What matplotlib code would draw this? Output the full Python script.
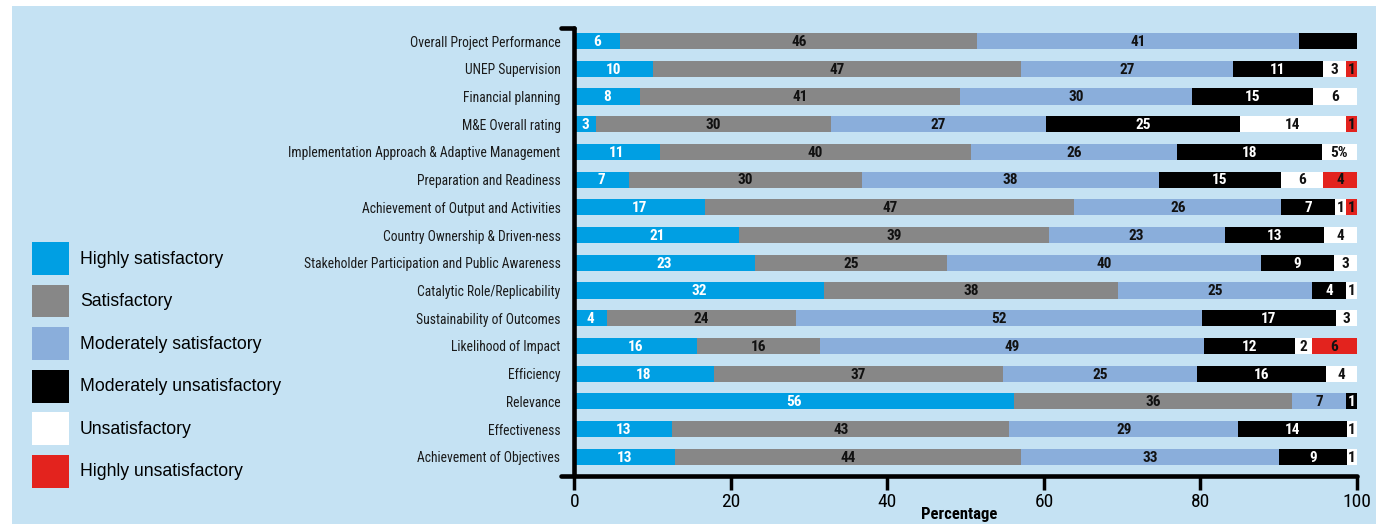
import numpy as np
import matplotlib
matplotlib.use('Agg')
import matplotlib.pyplot as plt
from matplotlib.patches import Rectangle, Patch

narrow = ['Roboto Condensed', 'PT Sans Narrow', 'DejaVu Sans']
plain = ['Liberation Sans', 'DejaVu Sans']
plt.rcParams['font.family'] = narrow

categories = ['Overall Project Performance', 'UNEP Supervision', 'Financial planning',
              'M&E Overall rating', 'Implementation Approach & Adaptive Management',
              'Preparation and Readiness', 'Achievement of Output and Activities',
              'Country Ownership & Driven-ness', 'Stakeholder Participation and Public Awareness',
              'Catalytic Role/Replicability', 'Sustainability of Outcomes', 'Likelihood of Impact',
              'Efficiency', 'Relevance', 'Effectiveness', 'Achievement of Objectives']

series = ['Highly satisfactory', 'Satisfactory', 'Moderately satisfactory',
          'Moderately unsatisfactory', 'Unsatisfactory', 'Highly unsatisfactory']

# segment widths (%) as drawn
highly_sat = [5.9, 10.1, 8.4, 2.8, 10.9, 7.0, 16.7, 21.1, 23.1, 31.9, 4.2, 15.7, 17.8, 56.2, 12.5, 12.9]
sat = [45.6, 47.0, 40.9, 30.0, 39.8, 29.7, 47.2, 39.5, 24.5, 37.6, 24.1, 15.7, 37.0, 35.5, 43.1, 44.2]
mod_sat = [41.1, 27.1, 29.6, 27.5, 26.3, 38.0, 26.4, 22.5, 40.1, 24.7, 51.9, 49.0, 24.7, 6.9, 29.2, 32.9]
mod_unsat = [7.4, 11.4, 15.5, 24.7, 18.5, 15.6, 6.9, 12.7, 9.3, 4.4, 17.1, 11.7, 16.5, 1.4, 13.9, 8.7]
unsat = [0, 3.0, 5.6, 13.6, 4.5, 5.4, 1.4, 4.2, 3.0, 1.4, 2.7, 2.1, 4.0, 0, 1.3, 1.3]
highly_unsat = [0, 1.4, 0, 1.4, 0, 4.3, 1.4, 0, 0, 0, 0, 5.8, 0, 0, 0, 0]

# printed labels
lab_hs = ['6', '10', '8', '3', '11', '7', '17', '21', '23', '32', '4', '16', '18', '56', '13', '13']
lab_s = ['46', '47', '41', '30', '40', '30', '47', '39', '25', '38', '24', '16', '37', '36', '43', '44']
lab_ms = ['41', '27', '30', '27', '26', '38', '26', '23', '40', '25', '52', '49', '25', '7', '29', '33']
lab_mu = ['', '11', '15', '25', '18', '15', '7', '13', '9', '4', '17', '12', '16', '1', '14', '9']
lab_u = ['', '3', '6', '14', '5%', '6', '1', '4', '3', '1', '3', '2', '4', '', '1', '1']
lab_hu = ['', '1', '', '1', '', '4', '1', '', '', '', '', '6', '', '', '', '']

colors = ['#009fe3', '#878787', '#8aaedb', '#000000', '#ffffff', '#e3231e']
text_colors = ['white', '#111111', '#111111', 'white', '#111111', '#111111']
bg = '#c5e2f3'

values = [highly_sat, sat, mod_sat, mod_unsat, unsat, highly_unsat]
labels = [lab_hs, lab_s, lab_ms, lab_mu, lab_u, lab_hu]

fig = plt.figure(figsize=(13.76, 5.24), dpi=100, facecolor='white')
fig.patches.append(Rectangle((12 / 1376, 0), 1, 1 - 6 / 524, transform=fig.transFigure,
                             facecolor=bg, edgecolor='none', zorder=-10))

ax = fig.add_axes([561 / 1376, 1 - 476 / 524, (1357 - 561) / 1376, (476 - 28) / 524])
ax.set_facecolor('none')

y = np.arange(len(categories))
left = np.zeros(len(categories))
for vals, labs, c, tc in zip(values, labels, colors, text_colors):
    vals = np.array(vals)
    ax.barh(y, vals, left=left, height=0.58, color=c, edgecolor='none', zorder=2)
    for yi, (l, v, t) in enumerate(zip(left, vals, labs)):
        if t:
            ax.text(l + v / 2, yi + 0.03, t, ha='center', va='center', color=tc,
                    fontsize=11, fontweight='bold', zorder=3)
    left = left + vals

ax.set_xlim(-1.7, 100)
ax.set_ylim(15.69, -0.47)
ax.set_yticks(y)
ax.set_yticklabels(categories)
ax.tick_params(axis='y', length=0, pad=10, labelsize=9.8, labelcolor='#1a1a1a')
ax.set_xticks([0, 20, 40, 60, 80, 100])
ax.tick_params(axis='x', length=10, width=2.5, pad=2, direction='out', labelsize=14)
ax.set_xlabel('Percentage', fontsize=12, fontweight='bold', va='top')
ax.xaxis.set_label_coords(0.5, -0.069)

for s in ['top', 'right']:
    ax.spines[s].set_visible(False)
ax.spines['left'].set_position(('data', 0))
ax.spines['left'].set_linewidth(3.3)
ax.spines['bottom'].set_linewidth(3.3)
ax.spines['left'].set_capstyle('round')
ax.spines['bottom'].set_capstyle('round')
# small hook at the top of the left axis
ax.plot([-1.7, 0], [-0.47, -0.47], color='black', lw=3.3, solid_capstyle='round',
        clip_on=False, zorder=4)

handles = [Patch(facecolor=c, edgecolor='none') for c in colors]
fig.legend(handles, series, loc='upper left', bbox_to_anchor=(32 / 1376, 1 - 242 / 524),
           frameon=False, borderpad=0, borderaxespad=0,
           handlelength=2.1, handleheight=2.5, labelspacing=0.54, handletextpad=0.62,
           prop={'family': plain, 'size': 12.7})

fig.savefig('out.png', dpi=100, facecolor='white')
